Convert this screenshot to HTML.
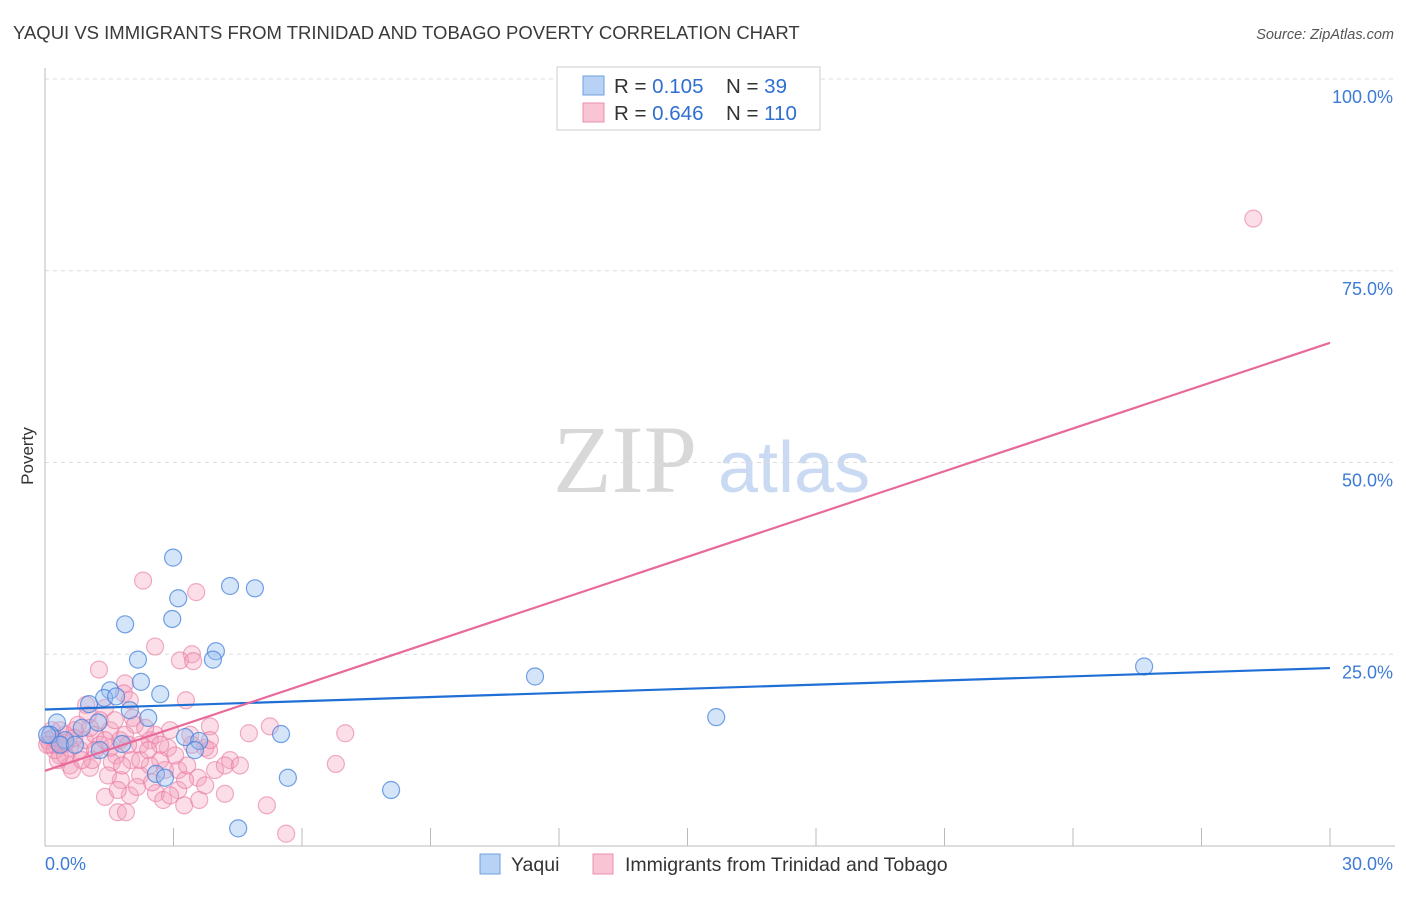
<!DOCTYPE html>
<html><head><meta charset="utf-8"><style>
body{margin:0;background:#fff;font-family:"Liberation Sans",sans-serif;}
svg text{font-family:"Liberation Sans",sans-serif;}
</style></head><body>
<svg id="chart" width="1406" height="892" xmlns="http://www.w3.org/2000/svg">
<text x="13" y="39" font-size="18.5" fill="#3a3a3a">YAQUI VS IMMIGRANTS FROM TRINIDAD AND TOBAGO POVERTY CORRELATION CHART</text>
<text x="1394" y="39" font-size="14.5" fill="#555" text-anchor="end" font-style="italic">Source: ZipAtlas.com</text>
<g>
<text x="553" y="492" font-size="96" fill="#d8d8d8" style="font-family:'Liberation Serif',serif">ZIP</text>
<text x="718" y="492" font-size="72" fill="#c9daf2">atlas</text>
</g>
<g id="grid"></g>
<g id="axes"></g>
<text transform="translate(33,456) rotate(-90)" font-size="17" fill="#333" text-anchor="middle">Poverty</text>
<g id="marks"></g>
<g id="trends"></g>
<g>
<rect x="557" y="67" width="263" height="63" fill="#fff" stroke="#ccc"/>
<rect x="583" y="76" width="21" height="19" fill="#b7d2f4" stroke="#6fa0e0"/>
<rect x="583" y="103" width="21" height="19" fill="#f9c4d3" stroke="#ec8fae"/>
<text x="614" y="93" font-size="20.5" fill="#333">R = <tspan fill="#2f6fd0">0.105</tspan></text>
<text x="726" y="93" font-size="20.5" fill="#333">N = <tspan fill="#2f6fd0"> 39</tspan></text>
<text x="614" y="120" font-size="20.5" fill="#333">R = <tspan fill="#2f6fd0">0.646</tspan></text>
<text x="726" y="120" font-size="20.5" fill="#333">N = <tspan fill="#2f6fd0">110</tspan></text>
</g>
<g>
<rect x="480" y="854" width="20" height="20" fill="#b7d2f4" stroke="#6fa0e0"/>
<text x="511" y="871" font-size="19.5" fill="#333">Yaqui</text>
<rect x="593" y="854" width="20" height="20" fill="#f9c4d3" stroke="#ec8fae"/>
<text x="625" y="871" font-size="19.5" fill="#333">Immigrants from Trinidad and Tobago</text>
</g>
</svg>
<script>
const xTickLabels=["0.0%","30.0%"];
const yTickValues=[25,50,75,100];
const yTickLabels=["25.0%","50.0%","75.0%","100.0%"];
const blueX=[2.99,3.11,4.32,4.90,1.87,2.97,3.99,3.92,2.17,2.24,2.69,1.52,1.03,1.38,1.66,1.98,2.41,1.24,0.28,0.12,0.47,1.80,3.27,3.60,3.50,5.51,2.59,2.80,5.67,8.08,4.51,11.44,15.67,25.66,0.35,0.70,1.28,0.86,0.05];
const blueY=[37.6,32.3,33.9,33.6,28.9,29.6,25.4,24.3,24.3,21.4,19.8,20.3,18.5,19.3,19.5,17.7,16.7,16.1,16.1,14.5,13.8,13.3,14.2,13.7,12.5,14.6,9.4,8.9,8.9,7.3,2.3,22.1,16.8,23.4,13.2,13.2,12.5,15.4,14.5];
const pinkX=[28.21,2.29,3.53,2.57,3.43,3.15,3.46,3.29,1.26,1.87,1.84,1.98,0.96,1.40,2.05,3.85,5.25,4.76,7.01,4.32,6.79,3.97,4.20,5.18,5.63,2.59,2.76,3.25,3.60,3.11,1.98,1.77,1.40,1.70,1.89,2.69,3.11,3.57,2.45,2.87,3.74,3.83,1.66,2.01,1.56,1.05,0.58,0.82,0.35,0.23,0.16,0.07,0.40,0.58,0.93,1.17,1.52,1.75,2.22,2.57,2.92,3.43,2.10,2.34,1.28,0.77,0.47,0.30,0.63,1.10,1.47,1.70,2.22,2.45,2.80,3.27,3.85,4.20,3.39,1.28,0.70,0.35,0.12,0.23,0.47,0.86,1.17,1.52,1.87,2.22,2.69,3.04,1.00,1.63,1.94,2.41,0.19,0.05,0.30,0.49,0.68,1.05,1.40,1.80,2.15,2.50,2.92,3.32,3.74,4.55];
const pinkY=[81.8,34.6,33.1,26.0,25.0,24.2,24.1,19.0,23.0,21.2,19.9,19.0,18.4,18.0,16.7,15.6,15.6,14.7,14.7,11.2,10.7,9.9,6.8,5.3,1.6,6.9,6.0,5.3,6.0,7.3,6.6,8.6,6.4,4.4,4.4,11.2,9.9,8.9,13.8,12.8,12.8,12.5,11.8,11.2,10.9,10.2,10.5,12.5,11.8,13.2,15.1,13.8,13.2,12.8,13.8,14.5,15.1,13.8,13.2,14.5,15.1,13.2,15.8,15.4,16.4,15.8,14.5,11.2,9.9,11.2,9.2,7.3,9.2,10.5,9.9,8.6,13.8,10.5,14.5,13.2,15.1,15.1,13.2,12.5,11.8,11.2,12.5,12.8,14.5,11.2,13.2,11.8,17.1,16.4,13.2,12.5,14.1,13.2,13.5,13.5,14.1,15.4,13.8,10.5,7.7,8.3,6.6,10.5,7.9,10.5];
const blueTrend=[17.8,23.2];
const pinkTrend=[9.8,65.6];
const NS="http://www.w3.org/2000/svg";
const X0=45,X1=1330,Y0=846,Y100=79;
function sx(v){return X0+(v/30)*(X1-X0);}
function sy(v){return Y0-(v/100)*(Y0-Y100);}
function mk(tag,attrs,parent){const e=document.createElementNS(NS,tag);for(const k in attrs)e.setAttribute(k,attrs[k]);parent.appendChild(e);return e;}
const grid=document.getElementById('grid'),axes=document.getElementById('axes'),marks=document.getElementById('marks'),trends=document.getElementById('trends');
yTickValues.forEach((v,i)=>{
 const l=mk('line',{x1:45,x2:1395,y1:sy(v),y2:sy(v),stroke:'#ddd','stroke-dasharray':'4,4'},grid);
 
 
 const t=mk('text',{x:1393,y:sy(v)+24,'font-size':18,fill:'#3d7bd6','text-anchor':'end'},axes);
 t.textContent=yTickLabels[i];
 
 
});
const ax=mk('line',{x1:45,x2:1395,y1:846,y2:846,stroke:'#bbb'},axes);


const ay=mk('line',{x1:45,x2:45,y1:68,y2:846,stroke:'#bbb'},axes);


for(let i=0;i<=10;i++){
 const tk=mk('line',{x1:sx(i*3),x2:sx(i*3),y1:828,y2:846,stroke:'#bbb'},axes);
 
 
}
[[0,'start',45],[1,'end',1393]].forEach(([i,a,x])=>{
 const t=mk('text',{x:x,y:870,'font-size':18,fill:'#3d7bd6','text-anchor':a},axes);
 t.textContent=xTickLabels[i];
 
 
});
pinkX.forEach((x,i)=>{
 const c=mk('circle',{cx:sx(x),cy:sy(pinkY[i]),r:8.5,fill:'rgba(244,160,188,0.35)',stroke:'rgba(232,120,160,0.6)','stroke-width':1.2},marks);
 
 
});
blueX.forEach((x,i)=>{
 const c=mk('circle',{cx:sx(x),cy:sy(blueY[i]),r:8.5,fill:'rgba(150,190,240,0.4)',stroke:'rgba(70,130,220,0.75)','stroke-width':1.2},marks);
 
 
});
const bl=mk('line',{x1:sx(0),y1:sy(blueTrend[0]),x2:sx(30),y2:sy(blueTrend[1]),stroke:'#1f6fd6','stroke-width':2.2},trends);


const pl=mk('line',{x1:sx(0),y1:sy(pinkTrend[0]),x2:sx(30),y2:sy(pinkTrend[1]),stroke:'#e8699a','stroke-width':2.2},trends);


</script>
</body></html>
